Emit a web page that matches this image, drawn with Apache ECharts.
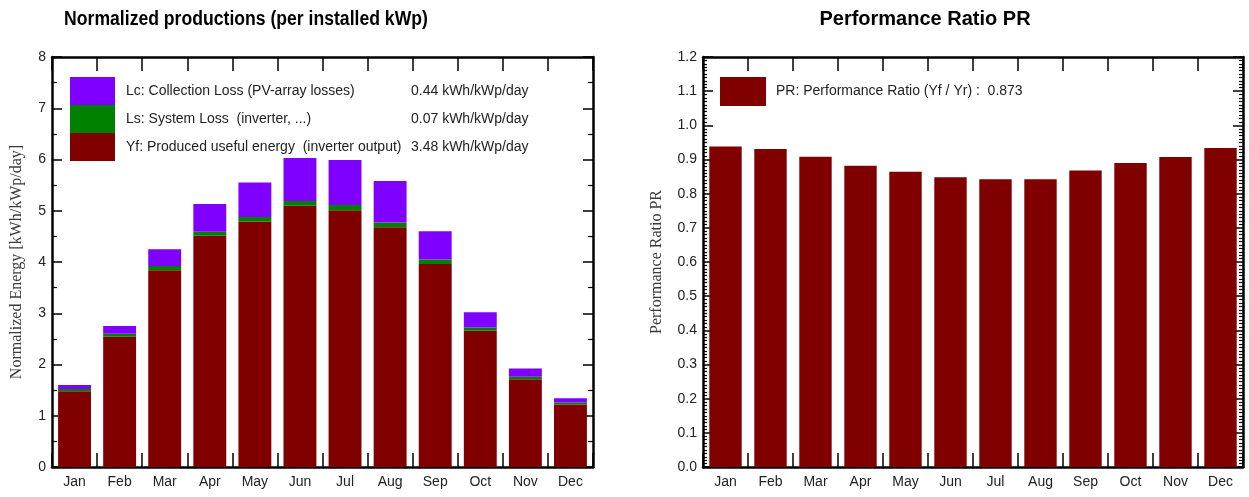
<!DOCTYPE html>
<html>
<head>
<meta charset="utf-8">
<script src="https://cdn.jsdelivr.net/npm/echarts@6/dist/echarts.min.js"></script>
<style>
  html, body { margin: 0; padding: 0; background: #ffffff; }
  #chart { width: 1249px; height: 497px; }
</style>
</head>
<body>
<div id="chart"></div>
<script>
// Monthly values, kWh/kWp/day
const months = ['Jan', 'Feb', 'Mar', 'Apr', 'May', 'Jun', 'Jul', 'Aug', 'Sep', 'Oct', 'Nov', 'Dec'];
const yieldYf = [1.48, 2.54, 3.84, 4.51, 4.79, 5.10, 5.01, 4.68, 3.96, 2.66, 1.71, 1.22];
const lossLs = [0.04, 0.06, 0.08, 0.08, 0.09, 0.09, 0.10, 0.09, 0.09, 0.06, 0.05, 0.04];
const lossLc = [0.08, 0.15, 0.33, 0.54, 0.67, 0.84, 0.88, 0.81, 0.55, 0.30, 0.16, 0.08];
const performanceRatio = [0.938, 0.931, 0.908, 0.882, 0.864, 0.848, 0.842, 0.842, 0.868, 0.890, 0.907, 0.934];

// Legend texts and yearly figures
const nameLc = 'Lc: Collection Loss (PV-array losses)';
const nameLs = 'Ls: System Loss  (inverter, ...)';
const nameYf = 'Yf: Produced useful energy  (inverter output)';
const namePR = 'PR: Performance Ratio (Yf / Yr)';
const yearlyValues = {};
yearlyValues[nameLc] = '0.44 kWh/kWp/day';
yearlyValues[nameLs] = '0.07 kWh/kWp/day';
yearlyValues[nameYf] = '3.48 kWh/kWp/day';
const yearlyPR = '0.873';

const titleLeft = 'Normalized productions (per installed kWp)';
const titleRight = 'Performance Ratio PR';
const energyAxisName = 'Normalized Energy [kWh/kWp/day]';
const prAxisName = 'Performance Ratio PR';

const SANS = '"Liberation Sans", Arial, Helvetica, sans-serif';
const SERIF = '"Liberation Serif", "Times New Roman", serif';
const FRAME = { color: '#000', width: 2.5 };
const TICK = { color: '#000', width: 1.5 };

function categoryAxis(gridIndex, position) {
  return {
    type: 'category',
    gridIndex: gridIndex,
    position: position,
    data: months,
    boundaryGap: true,
    axisLine: { show: true, onZero: false, lineStyle: FRAME },
    axisTick: { show: true, inside: true, length: 14, interval: 0, alignWithLabel: false, lineStyle: TICK },
    axisLabel: {
      show: position === 'bottom', interval: 0, margin: 8,
      color: '#222', fontSize: 14, fontFamily: SANS
    },
    splitLine: { show: false }
  };
}

function valueAxis(gridIndex, position, max, interval, minorSplit, minorLen, labelFmt, name, nameGap) {
  return {
    type: 'value',
    gridIndex: gridIndex,
    position: position,
    min: 0,
    max: max,
    interval: interval,
    axisLine: { show: true, onZero: false, lineStyle: FRAME },
    axisTick: { show: true, inside: true, length: 10, lineStyle: TICK },
    minorTick: { show: true, splitNumber: minorSplit, length: minorLen, lineStyle: { color: '#000', width: 1.2 } },
    splitLine: { show: false },
    minorSplitLine: { show: false },
    axisLabel: {
      show: position === 'left', margin: 6,
      color: '#222', fontSize: 14, fontFamily: SANS,
      formatter: labelFmt
    },
    name: position === 'left' ? name : '',
    nameLocation: 'middle',
    nameGap: nameGap,
    nameTextStyle: { color: '#3a3a3a', fontSize: 16, fontFamily: SERIF }
  };
}

const chart = echarts.init(document.getElementById('chart'), null, { renderer: 'canvas' });

chart.setOption({
  animation: false,
  backgroundColor: '#ffffff',
  graphic: [
    {
      type: 'text', x: 246, y: 19, scaleX: 0.88,
      style: { text: titleLeft, font: 'bold 20px ' + SANS, fill: '#000', textAlign: 'center', textVerticalAlign: 'middle' }
    },
    {
      type: 'text', x: 925, y: 19,
      style: { text: titleRight, font: 'bold 20px ' + SANS, fill: '#000', textAlign: 'center', textVerticalAlign: 'middle' }
    }
  ],
  grid: [
    { left: 52, top: 57, width: 541, height: 410, containLabel: false },
    { left: 703, top: 57, width: 540, height: 410, containLabel: false }
  ],
  legend: [
    {
      data: [nameLc, nameLs, nameYf],
      orient: 'vertical',
      left: 70, top: 77, padding: 0,
      itemWidth: 45, itemHeight: 28, itemGap: 0,
      icon: 'rect',
      selectedMode: false,
      formatter: function (name) { return '{s|}{n|' + name + '}{v|' + yearlyValues[name] + '}'; },
      textStyle: {
        color: '#222', fontSize: 14, fontFamily: SANS,
        rich: {
          s: { width: 6 },
          n: { width: 285, color: '#222', fontSize: 14, fontFamily: SANS },
          v: { color: '#222', fontSize: 14, fontFamily: SANS }
        }
      }
    },
    {
      data: [namePR],
      orient: 'vertical',
      left: 720, top: 77, padding: 0,
      itemWidth: 46, itemHeight: 29, itemGap: 0,
      icon: 'rect',
      selectedMode: false,
      formatter: function (name) { return '{s|}' + name + ' :  ' + yearlyPR; },
      textStyle: {
        color: '#222', fontSize: 14, fontFamily: SANS,
        rich: { s: { width: 5 } }
      }
    }
  ],
  xAxis: [
    categoryAxis(0, 'bottom'),
    categoryAxis(0, 'top'),
    categoryAxis(1, 'bottom'),
    categoryAxis(1, 'top')
  ],
  yAxis: [
    valueAxis(0, 'left', 8, 1, 2, 5, function (v) { return String(v); }, energyAxisName, 27),
    valueAxis(0, 'right', 8, 1, 2, 5, null, '', 0),
    valueAxis(1, 'left', 1.2, 0.1, 10, 4, function (v) { return v.toFixed(1); }, prAxisName, 38),
    valueAxis(1, 'right', 1.2, 0.1, 10, 4, null, '', 0)
  ],
  series: [
    {
      name: nameYf, type: 'bar', stack: 'energy',
      xAxisIndex: 0, yAxisIndex: 0,
      barCategoryGap: '27%',
      itemStyle: { color: '#800000' },
      data: yieldYf
    },
    {
      name: nameLs, type: 'bar', stack: 'energy',
      xAxisIndex: 0, yAxisIndex: 0,
      barCategoryGap: '27%',
      itemStyle: { color: '#008000' },
      data: lossLs
    },
    {
      name: nameLc, type: 'bar', stack: 'energy',
      xAxisIndex: 0, yAxisIndex: 0,
      barCategoryGap: '27%',
      itemStyle: { color: '#8000ff' },
      data: lossLc
    },
    {
      name: namePR, type: 'bar',
      xAxisIndex: 2, yAxisIndex: 2,
      barCategoryGap: '28%',
      itemStyle: { color: '#800000' },
      data: performanceRatio
    }
  ]
});
</script>
</body>
</html>
